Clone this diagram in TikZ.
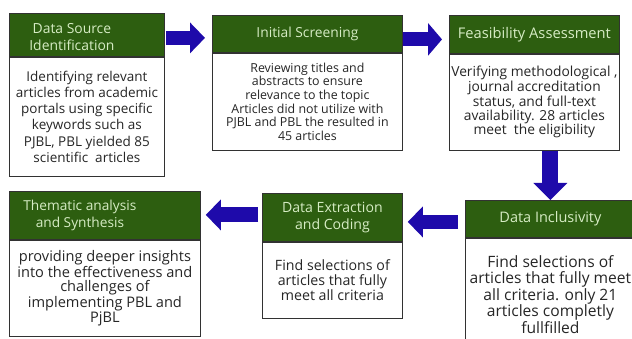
\documentclass[tikz,border=0pt]{standalone}
\usepackage{fontspec}
\setmainfont{Open Sans}
\usepackage{tikz}
\usetikzlibrary{arrows.meta, positioning}

\definecolor{headgreen}{RGB}{45,94,16}
\definecolor{headtext}{RGB}{214,236,196}
\definecolor{flowblue}{RGB}{30,10,170}
\definecolor{edgegray}{RGB}{50,50,50}

\tikzset{
  head/.style={draw=edgegray, line width=0.8pt, fill=headgreen, text=headtext, align=center,
    inner sep=0pt, anchor=north west, font=\fontsize{14}{16.5}\selectfont},
  headtxt/.style={text=headtext, align=center, inner sep=0pt, font=\fontsize{14}{16.5}\selectfont},
  body/.style={draw=edgegray, line width=0.8pt, fill=white, align=center, inner sep=0pt,
    anchor=north, text=black!85},
  flowarrow/.style={draw=flowblue, line width=14pt, -{Triangle[length=15pt, width=30pt]}}
}

\begin{document}
\begin{tikzpicture}[x=1pt, y=-1pt]
    \useasboundingbox (0,0) rectangle (632,339);
    \clip (0,0) rectangle (632,339);

    % Data source identification
    \node[head, minimum width=155pt, minimum height=43pt] (h1) at (9,13) {};
    \node[headtxt, xshift=-15pt, yshift=-2pt, font=\fontsize{13.9}{16.5}\selectfont] (t1) at (h1) {Data Source\\Identification};
    \node[body, minimum width=155pt, minimum height=119pt, font=\fontsize{13.5}{16.3}\selectfont] (b1) at (h1.south)
        {Identifying relevant\\articles from academic\\portals using specific\\keywords such as\\PJBL, PBL yielded 85\\scientific~ articles};

    % Initial screening
    \node[head, minimum width=190pt, minimum height=37pt, font=\fontsize{13.8}{16}\selectfont] (h2) at (212,15) {Initial Screening};
    \node[body, minimum width=190pt, minimum height=97pt, font=\fontsize{12.4}{13.6}\selectfont] (b2) at (h2.south)
        {Reviewing titles and\\abstracts to ensure\\relevance to the topic\\Articles did not utilize with\\PJBL and PBL the resulted in\\45 articles};

    % Feasibility assessment
    \node[head, minimum width=170pt, minimum height=38pt, font=\fontsize{14.7}{16}\selectfont] (h3) at (449,15) {Feasibility Assessment};
    \node[body, minimum width=170pt, minimum height=96pt, font=\fontsize{13.8}{13.6}\selectfont] (b3) at (h3.south)
        {Verifying methodological ,\\journal accreditation\\status, and full-text\\availability. 28 articles\\meet~ the eligibility};

    % Data inclusivity (runs off the page)
    \node[head, minimum width=170pt, minimum height=37pt, font=\fontsize{14.5}{16}\selectfont] (h6) at (465,200) {Data Inclusivity};
    \node[body, minimum width=170pt, minimum height=112pt, font=\fontsize{15.6}{16.5}\selectfont] (b6) at (h6.south)
        {Find selections of\\articles that fully meet\\all criteria. only 21\\articles completly\\fullfilled};

    % Data extraction and coding
    \node[head, minimum width=140pt, minimum height=48pt, font=\fontsize{14.1}{16.5}\selectfont] (h5) at (262,193) {Data Extraction\\and Coding};
    \node[body, minimum width=140pt, minimum height=76pt, font=\fontsize{14.2}{15}\selectfont] (b5) at (h5.south)
        {Find selections of\\articles that fully\\meet all criteria};

    % Thematic analysis and synthesis
    \node[head, minimum width=191pt, minimum height=48pt] (h4) at (9,191) {};
    \node[headtxt, xshift=-25pt, font=\fontsize{13.7}{16.5}\selectfont] (t4) at (h4) {Thematic analysis\\and Synthesis};
    \node[body, minimum width=191pt, minimum height=96pt, font=\fontsize{14.6}{14.2}\selectfont] (b4) at (h4.south)
        {providing deeper insights\\into the effectiveness and\\challenges of\\implementing PBL and\\PjBL};

    % Flow arrows
    \draw[flowarrow, shorten <=1pt, shorten >=7pt] ([yshift=-3pt]h1.east) -- ([yshift=-3pt]h1.east -| h2.west);
    \draw[flowarrow, shorten >=7pt, -{Triangle[length=14pt, width=32pt]}] ([yshift=-5.5pt]h2.east) -- ([yshift=-5.5pt]h2.east -| h3.west);
    \draw[flowarrow, line width=16pt, -{Triangle[length=17pt, width=33pt]}] (b3.south -| h6.north) -- (h6.north);
    \draw[flowarrow, shorten <=7pt, shorten >=5pt] ([yshift=-3pt]h6.west) -- ([yshift=-3pt]h6.west -| h5.east);
    \draw[flowarrow, line width=15pt, shorten <=4pt, shorten >=5pt] ([yshift=2.5pt]h5.west) -- ([yshift=2.5pt]h5.west -| h4.east);
\end{tikzpicture}
\end{document}
